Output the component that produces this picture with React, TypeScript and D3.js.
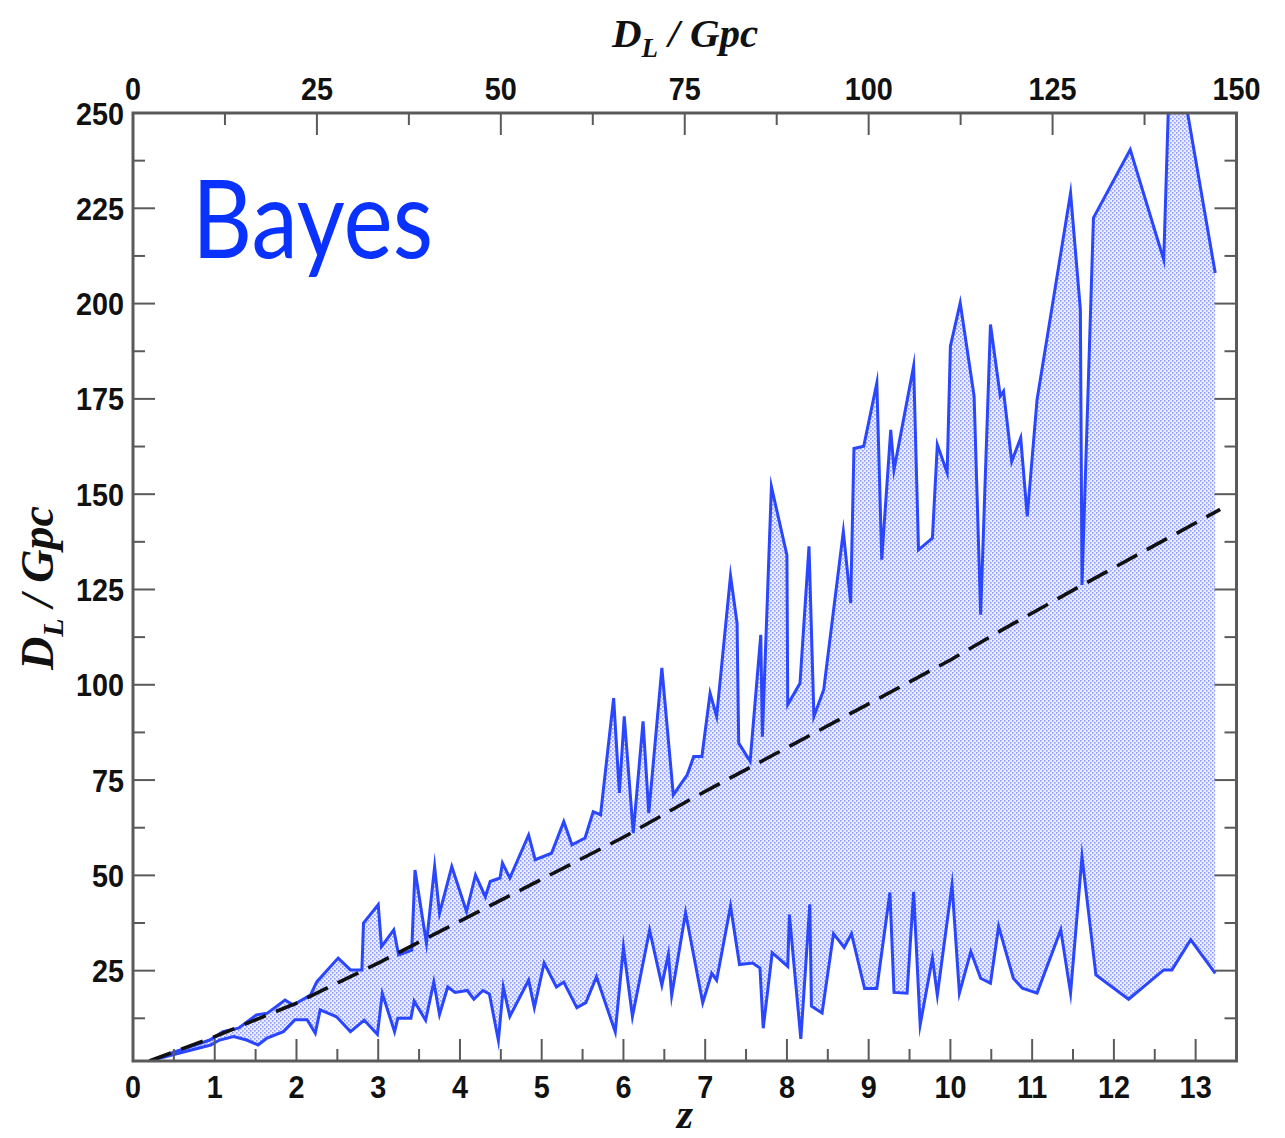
import React from "react";
import * as d3 from "d3";

const upperZ = [0.2,0.5,0.94,1.1,1.29,1.51,1.64,1.86,1.96,2.17,2.25,2.51,2.66,2.8,2.82,3.0,3.04,3.19,3.25,3.41,3.45,3.59,3.69,3.75,3.9,4.08,4.19,4.31,4.37,4.49,4.52,4.61,4.84,4.92,5.12,5.27,5.37,5.53,5.63,5.72,5.88,5.95,6.01,6.12,6.24,6.31,6.47,6.61,6.78,6.86,6.96,7.06,7.14,7.31,7.39,7.41,7.55,7.68,7.7,7.81,8.0,8.01,8.16,8.27,8.33,8.45,8.69,8.78,8.82,8.94,9.1,9.16,9.27,9.31,9.55,9.61,9.78,9.84,9.96,10.0,10.12,10.29,10.37,10.49,10.61,10.65,10.75,10.86,10.94,11.06,11.47,11.59,11.61,11.75,12.2,12.61,12.7,13.24];
const upperD = [1.3,3.6,6.8,9.0,9.9,13.4,13.8,17.3,16.0,18.6,22.1,28.3,25.2,25.2,37.5,42.3,31.3,35.7,29.1,30.4,51.4,32.2,52.3,40,52.3,40.5,50.1,44.4,48.4,49.3,53.2,49.3,60.6,54.1,55.8,64.1,58,59.8,66.7,65.9,96.5,71.6,91.7,61.1,90.4,66.3,104.4,71.1,76.4,81.2,81.2,97.8,91.7,128.6,116.2,84.7,79.9,113.1,86.4,152,134,94.8,100.4,136.3,91.7,98.7,140.2,121.4,162,162.6,179.2,132.8,166.9,156.4,183.6,135.4,138.5,163,155.6,188.8,200.2,175.7,118.4,194.5,175.7,177,158.6,164.8,144.2,174.8,229,198.4,126.2,222.5,240.4,211.5,275,208];

const lowerZ = [0.2,0.5,0.95,1.06,1.23,1.39,1.53,1.64,1.84,1.98,2.13,2.23,2.29,2.49,2.66,2.83,2.99,3.05,3.2,3.24,3.4,3.44,3.58,3.68,3.75,3.85,3.94,4.09,4.17,4.28,4.36,4.47,4.53,4.61,4.84,4.91,5.03,5.18,5.27,5.43,5.54,5.67,5.9,6.0,6.11,6.32,6.47,6.55,6.59,6.76,6.97,7.08,7.14,7.31,7.42,7.58,7.67,7.71,7.82,8.01,8.03,8.17,8.28,8.3,8.43,8.57,8.7,8.79,8.95,9.1,9.26,9.31,9.47,9.55,9.63,9.78,9.84,10.02,10.11,10.25,10.37,10.49,10.59,10.77,10.88,11.06,11.35,11.47,11.61,11.78,12.18,12.61,12.71,12.94,13.24];
const lowerD = [1.3,3.0,5.5,6.8,7.7,6.8,5.5,7.3,9.0,12.1,12.1,8.6,14.7,12.9,9.0,12,8.3,19,9,12.5,12.5,17,12,22,13.5,20.7,19.3,19.8,17.5,19.8,18.9,6.7,20.7,13,22.5,15.3,27,20.7,22,15.3,16.6,23.4,8.9,31.1,13,35.6,21.2,29.3,18.5,40.2,16.6,24.3,22.5,41.9,26.6,27,25.7,9.9,29.7,26.1,39.7,7.1,42.4,15.7,13.9,34.7,31.1,34.7,20.3,20.3,45.5,19.3,19.1,45.7,10.8,28.3,18.6,47.5,19.1,30,23,21.7,36.6,23,20.4,19.1,35.7,19.1,54.9,23.9,17.5,25.2,25.2,33.1,24.3];

const fidZ = [0.2,1,2,3,4,5,6,6.85,8,9,10,10.6,11.6,13.3];
const fidD = [1.3,7.7,16.5,27,38,49,60,70.3,83.5,95,106.5,114,126,146];

const zTicks = [0,1,2,3,4,5,6,7,8,9,10,11,12,13];
const dTopTicks = [0,25,50,75,100,125,150];
const dLeftTicks = [25,50,75,100,125,150,175,200,225,250];

const W = 1285, H = 1138;
const L = 133, R = 1236.5, T = 113, B = 1061;

export default function App() {
  const x = d3.scaleLinear().domain([0, 13.5]).range([L, R]);
  const xTop = d3.scaleLinear().domain([0, 150]).range([L, R]);
  const y = d3.scaleLinear().domain([1.3, 250]).range([B, T]);

  const up = upperZ.map((z, i) => [z, upperD[i]] as [number, number]);
  const lo = lowerZ.map((z, i) => [z, lowerD[i]] as [number, number]);
  const fid = fidZ.map((z, i) => [z, fidD[i]] as [number, number]);
  const line = d3.line<[number, number]>().x(d => x(d[0])).y(d => y(d[1]));
  const poly = up.concat(lo.slice().reverse());
  const polyPath = line(poly) + "Z";

  const axisColor = "#5a5a5a";
  const tickFont: React.CSSProperties = { fontFamily: "Liberation Sans, Arial, sans-serif", fontWeight: 700, fontSize: 32 };

  const zMinor = d3.range(0.5, 13.5, 1);
  const topMinor = d3.range(12.5, 150, 25);
  const leftMinor = d3.range(12.5, 250, 25);

  const label = (txt: string, tx: number, ty: number, anchor: "start" | "middle" | "end", key: string) => (
    <g key={key} transform={`translate(${tx},${ty}) scale(0.9,1)`}>
      <text x={0} y={0} textAnchor={anchor} style={tickFont} fill="#111">{txt}</text>
    </g>
  );

  return (
    <div style={{ position: "absolute", left: 0, top: 0 }}>
      <svg width={W} height={H} viewBox={`0 0 ${W} ${H}`} style={{ display: "block", background: "#fff" }}>
        <defs>
          <pattern id="dots" width="4" height="4" patternUnits="userSpaceOnUse">
            <rect width="4" height="4" fill="#eceeff" />
            <rect x="0" y="0" width="1.6" height="1.6" fill="#8d9cff" />
            <rect x="2" y="2" width="1.6" height="1.6" fill="#8d9cff" />
          </pattern>
          <clipPath id="plotclip">
            <rect x={L} y={T} width={R - L} height={B - T} />
          </clipPath>
        </defs>

        <g clipPath="url(#plotclip)">
          <path d={polyPath} fill="url(#dots)" stroke="none" />
          <path d={line(up) || ""} fill="none" stroke="#2a46ff" strokeWidth={3} strokeLinejoin="miter" strokeMiterlimit={10} />
          <path d={line(lo) || ""} fill="none" stroke="#2a46ff" strokeWidth={3} strokeLinejoin="miter" strokeMiterlimit={10} />
          <path d={line(fid) || ""} fill="none" stroke="#111" strokeWidth={3.6} strokeDasharray="23,11" />
        </g>

        {/* frame */}
        <rect x={L} y={T} width={R - L} height={B - T} fill="none" stroke={axisColor} strokeWidth={3} />

        {/* bottom ticks */}
        {zTicks.map(t => <line key={"bz" + t} x1={x(t)} x2={x(t)} y1={B} y2={B - 22} stroke={axisColor} strokeWidth={2} />)}
        {zMinor.map(t => <line key={"bzm" + t} x1={x(t)} x2={x(t)} y1={B} y2={B - 12} stroke={axisColor} strokeWidth={2} />)}
        {zTicks.map(t => label(String(t), x(t), 1098, "middle", "bl" + t))}

        {/* top ticks */}
        {dTopTicks.map(t => <line key={"tz" + t} x1={xTop(t)} x2={xTop(t)} y1={T} y2={T + 22} stroke={axisColor} strokeWidth={2} />)}
        {topMinor.map(t => <line key={"tzm" + t} x1={xTop(t)} x2={xTop(t)} y1={T} y2={T + 12} stroke={axisColor} strokeWidth={2} />)}
        {dTopTicks.map(t => label(String(t), xTop(t), 100, "middle", "tl" + t))}

        {/* left & right ticks */}
        {dLeftTicks.map(t => <line key={"ly" + t} x1={L} x2={L + 22} y1={y(t)} y2={y(t)} stroke={axisColor} strokeWidth={2} />)}
        {leftMinor.map(t => <line key={"lym" + t} x1={L} x2={L + 12} y1={y(t)} y2={y(t)} stroke={axisColor} strokeWidth={2} />)}
        {dLeftTicks.map(t => <line key={"ry" + t} x1={R} x2={R - 22} y1={y(t)} y2={y(t)} stroke={axisColor} strokeWidth={2} />)}
        {leftMinor.map(t => <line key={"rym" + t} x1={R} x2={R - 12} y1={y(t)} y2={y(t)} stroke={axisColor} strokeWidth={2} />)}
        {dLeftTicks.map(t => label(String(t), 124, y(t) + 11.5, "end", "ll" + t))}

        {/* axis titles */}
        <text x={612} y={47} style={{ fontFamily: "Liberation Serif, Times New Roman, serif", fontStyle: "italic", fontWeight: 700, fontSize: 41 }} fill="#111">
          <tspan>D</tspan>
          <tspan fontSize={27} dy={10}>L</tspan>
          <tspan dy={-10}> / Gpc</tspan>
        </text>
        <text transform="translate(53,670) rotate(-90)" style={{ fontFamily: "Liberation Serif, Times New Roman, serif", fontStyle: "italic", fontWeight: 700, fontSize: 46 }} fill="#111">
          <tspan>D</tspan>
          <tspan fontSize={30} dy={10}>L</tspan>
          <tspan dy={-10}> / Gpc</tspan>
        </text>
        <text x={685} y={1128} textAnchor="middle" style={{ fontFamily: "Liberation Serif, Times New Roman, serif", fontStyle: "italic", fontWeight: 700, fontSize: 42 }} fill="#111">z</text>

        <text x={192} y={258} textLength={241} lengthAdjust="spacingAndGlyphs" style={{ fontFamily: "Lato, Open Sans, sans-serif", fontSize: 108 }} fill="#0a32ff">Bayes</text>
      </svg>
    </div>
  );
}
